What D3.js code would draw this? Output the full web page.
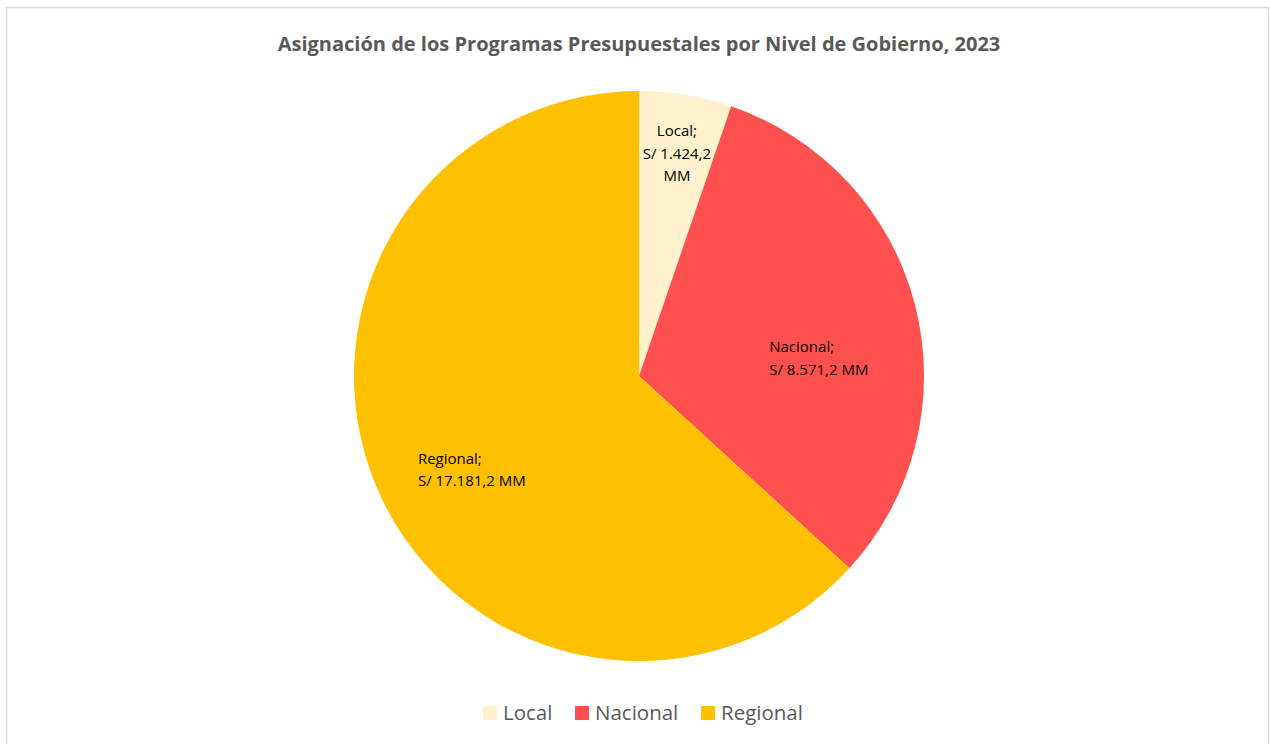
<!DOCTYPE html>
<html>
<head>
<meta charset="utf-8">
<script src="https://cdn.jsdelivr.net/npm/d3@7"></script>
<style>
  body { margin: 0; background: #fff; }
  svg { display: block; }
</style>
</head>
<body>
<div id="chart"></div>
<script>
// data
var categories = ["Local", "Nacional", "Regional"];
var values = [1424.2, 8571.2, 17181.2];
var labelTexts = [
    ["Local;", "S/ 1.424,2", "MM"],
    ["Nacional;", "S/ 8.571,2 MM"],
    ["Regional;", "S/ 17.181,2 MM"]
];
var colors = ["#FFF2CC", "#FF5050", "#FFC000"];

var width = 1270, height = 744;
var cx = 639, cy = 376, radius = 285;

var svg = d3.select("#chart")
    .append("svg")
        .attr("width", width)
        .attr("height", height);

// chart border
svg.append("rect")
    .attr("x", 6.5).attr("y", 7.5)
    .attr("width", 1262).attr("height", 800)
    .attr("fill", "#fff")
    .attr("stroke", "#d9d9d9")
    .attr("stroke-width", 1.5);

svg.append("text")
    .attr("x", 639)
    .attr("y", 51)
    .attr("text-anchor", "middle")
    .style("font-family", "'Open Sans', sans-serif")
    .style("font-weight", "bold")
    .style("font-size", "20px")
    .style("fill", "#595959")
    .text("Asignación de los Programas Presupuestales por Nivel de Gobierno, 2023");

var data = categories.map(function(c, i) { return {name: c, value: values[i], i: i}; });

var pie = d3.pie()
    .sort(null)
    .value(function(d) { return d.value; });

var arc = d3.arc().innerRadius(0).outerRadius(radius);

var color = d3.scaleOrdinal().domain(categories).range(colors);

var g = svg.append("g").attr("transform", "translate(" + cx + "," + cy + ")");

var arcs = pie(data);

g.selectAll("path.slice")
    .data(arcs)
    .enter()
    .append("path")
    .attr("class", "slice")
    .attr("d", arc)
    .style("fill", function(d) { return color(d.data.name); });

// label placement (radius factor, anchor, shifts)
var labelCfg = [
    {k: 0.79, anchor: "middle", dx: 1, dy: 0},
    {k: 0.66, anchor: "start", dx: -52, dy: 29},
    {k: 0.66, anchor: "start", dx: -49, dy: 18}
];

g.selectAll("text.lbl")
    .data(arcs)
    .enter()
    .append("text")
    .attr("class", "lbl")
    .each(function(d) {
        var cfg = labelCfg[d.data.i];
        var la = d3.arc().innerRadius(radius * cfg.k).outerRadius(radius * cfg.k);
        var c = la.centroid(d);
        var lines = labelTexts[d.data.i];
        var lh = 22.5;
        var y0 = c[1] + cfg.dy - (lines.length - 1) * lh / 2 + 5;
        var t = d3.select(this)
            .attr("text-anchor", cfg.anchor)
            .style("font-family", "'Open Sans', sans-serif")
            .style("font-size", "15px")
            .style("fill", "#000");
        lines.forEach(function(l, j) {
            t.append("tspan")
                .attr("x", c[0] + cfg.dx)
                .attr("y", y0 + j * lh)
                .text(l);
        });
    });

// legend
var legendX = [483, 575, 701];
var legend = svg.selectAll("g.leg")
    .data(categories)
    .enter()
    .append("g")
    .attr("class", "leg")
    .attr("transform", function(d, i) { return "translate(" + legendX[i] + ",706)"; });

legend.append("rect")
    .attr("width", 14).attr("height", 14)
    .style("fill", function(d) { return color(d); });

legend.append("text")
    .attr("x", 20)
    .attr("y", 14)
    .style("font-family", "'Open Sans', sans-serif")
    .style("font-size", "20.5px")
    .style("fill", "#595959")
    .text(function(d) { return d; });
</script>
</body>
</html>
